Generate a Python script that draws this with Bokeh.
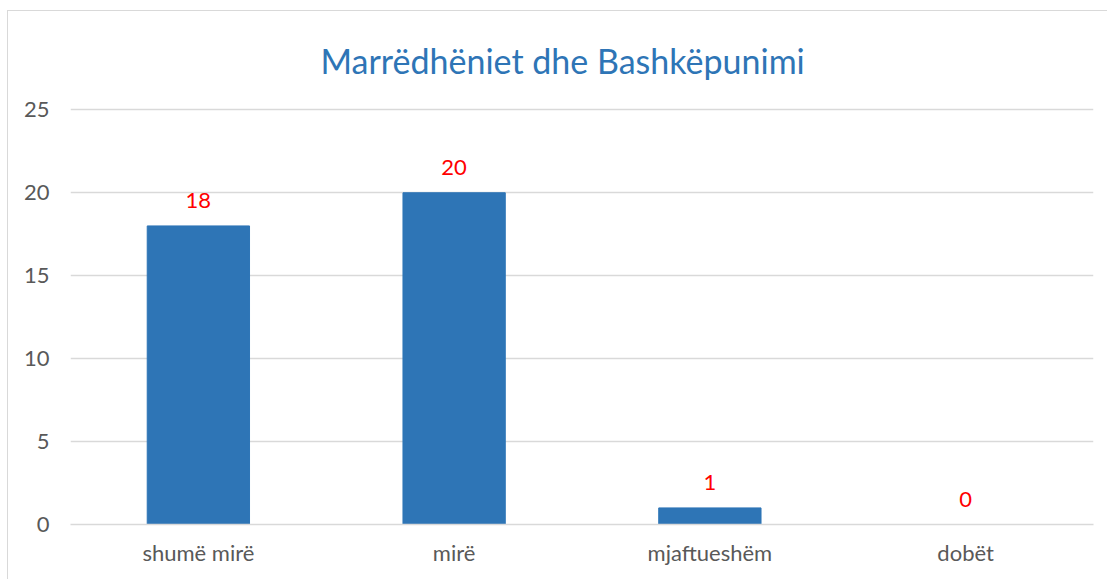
from bokeh.plotting import figure
from bokeh.models import ColumnDataSource, LabelSet, Range1d, FixedTicker, Title
from bokeh.core.properties import value
from bokeh.embed import file_html
from bokeh.resources import INLINE

categories = ["shumë mirë", "mirë", "mjaftueshëm", "dobët"]
values = [18, 20, 1, 0]
y_ticks = [0, 5, 10, 15, 20, 25]
title_text = "Marrëdhëniet dhe Bashkëpunimi"

FONT = "Lato"
BLUE = "#2E75B6"

src = ColumnDataSource(dict(cat=categories, val=values, lab=[str(v) for v in values]))

p = figure(x_range=categories, y_range=Range1d(0, 25.2), width=1100, height=569,
           output_backend="svg", toolbar_location=None,
           min_border_left=62, min_border_right=15, min_border_top=94, min_border_bottom=56)

title = Title(text=title_text, align="left", offset=250, standoff=52, text_color=BLUE,
              text_font=FONT, text_font_size="34px", text_font_style="normal")
p.add_layout(title, "above")

p.vbar(x="cat", top="val", width=0.4, source=src, color=BLUE, line_color=BLUE)

labels = LabelSet(x="cat", y="val", text="lab", source=src, text_align="center",
                  text_baseline="bottom", y_offset=18, text_color="#FF0000",
                  text_font=value(FONT), text_font_size="22px")
p.add_layout(labels)

p.outline_line_color = None
p.background_fill_color = "white"
p.border_fill_color = "white"

p.xgrid.grid_line_color = None
p.ygrid.grid_line_color = "#D9D9D9"
p.ygrid.grid_line_width = 1.5
p.yaxis.ticker = FixedTicker(ticks=y_ticks)

for ax in (p.xaxis, p.yaxis):
    ax.axis_line_color = None
    ax.major_tick_line_color = None
    ax.minor_tick_line_color = None
    ax.major_label_text_font = FONT
    ax.major_label_text_font_size = "22px"
    ax.major_label_text_color = "#595959"
p.yaxis.major_label_standoff = 15
p.xaxis.major_label_standoff = 8
p.xaxis.axis_line_color = "#D9D9D9"
p.xaxis.axis_line_width = 1.5

p.styles = {"margin-left": "7px", "margin-top": "10px",
            "border-top": "1px solid #D9D9D9", "border-left": "1px solid #D9D9D9"}

open("out.html", "w").write(file_html(p, INLINE))
